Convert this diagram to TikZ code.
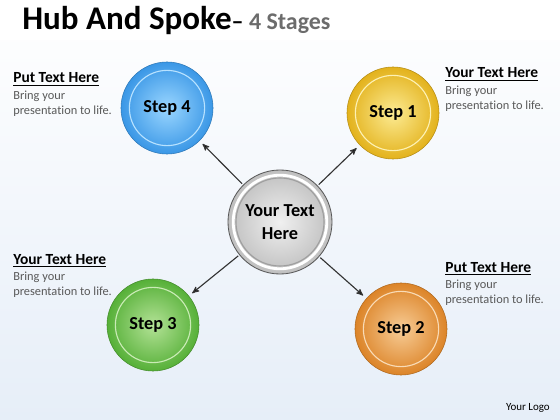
\documentclass[tikz,border=0pt]{standalone}
\usepackage{fontspec}
\setmainfont{Carlito}[Ligatures=NoCommon]
\usetikzlibrary{arrows,positioning}

\definecolor{bluebase}{HTML}{3A97E6}
\definecolor{bluelight}{HTML}{9AD6FF}
\definecolor{yellowbase}{HTML}{E3B21C}
\definecolor{yellowlight}{HTML}{FCEB93}
\definecolor{orangebase}{HTML}{DC8428}
\definecolor{orangelight}{HTML}{F7CC96}
\definecolor{greenbase}{HTML}{56B038}
\definecolor{greenlight}{HTML}{B3E296}
\definecolor{bodygray}{HTML}{595959}
\definecolor{bgblue}{HTML}{E6EEF8}

\tikzset{
  ball/.style 2 args={circle, minimum size=2.3cm, inner sep=0pt,
    inner color=#2, outer color=#1, draw=#1!80!black, line width=0.4pt,
    font=\fontsize{13}{15}\selectfont\bfseries,
    path picture={\draw[#2!70!white, line width=0.8pt]
      (path picture bounding box.center) circle (0.94cm);}},
  hub/.style={circle, minimum size=2.6cm, inner sep=0pt,
    inner color=gray!12, outer color=gray!50, draw=gray!70!black, line width=0.6pt,
    align=center, font=\fontsize{13}{16}\selectfont\bfseries,
    path picture={
      \draw[white, line width=2pt] (path picture bounding box.center) circle (1.17cm);
      \draw[gray!75, line width=0.8pt] (path picture bounding box.center) circle (1.1cm);}},
  head/.style={inner sep=0pt, font=\fontsize{11}{13}\selectfont\bfseries},
  body/.style={inner sep=0pt, align=left, text=bodygray, font=\fontsize{8.8}{11}\selectfont}
}

\begin{document}
\begin{tikzpicture}[x=0.025cm,y=-0.025cm,>=stealth',shorten >=3pt,shorten <=1pt]
  % background
  \shade[top color=white, bottom color=bgblue] (0,0) rectangle (560,420);
  \fill[white] (0,0) rectangle (560,40);
  \useasboundingbox (0,0) rectangle (560,420);

  % title
  \node[inner sep=0pt, anchor=base west] (title) at (22,30)
    {\fontsize{23.5}{28}\selectfont\bfseries Hub And Spoke\fontsize{17}{20}\selectfont\bfseries--
     \color{gray!85!black}4 Stages};

  % hub and steps
  \node[hub]                            (hub)   at (280,222) {Your Text\\Here};
  \node[ball={bluebase}{bluelight}]     (step4) at (167,108) {Step 4};
  \node[ball={yellowbase}{yellowlight}] (step1) at (393,113) {Step 1};
  \node[ball={orangebase}{orangelight}] (step2) at (401,329) {Step 2};
  \node[ball={greenbase}{greenlight}]   (step3) at (153,325) {Step 3};

  \path[->, draw=black!80, line width=0.8pt]
  (hub) edge (step4)
  (hub) edge (step1)
  (hub) edge (step2)
  (hub) edge (step3)
  ;

  % text blocks
  \node[head, anchor=base west] (head4) at (13,83) {\underline{Put Text Here}};
  \node[body, below=3pt of head4.south west, anchor=north west] (body4)
    {Bring your\\presentation to life.};

  \node[head, anchor=base west] (head1) at (445,78) {\underline{Your Text Here}};
  \node[body, below=3pt of head1.south west, anchor=north west] (body1)
    {Bring your\\presentation to life.};

  \node[head, anchor=base west] (head3) at (13,264) {\underline{Your Text Here}};
  \node[body, below=3pt of head3.south west, anchor=north west] (body3)
    {Bring your\\presentation to life.};

  \node[head, anchor=base west] (head2) at (445,272) {\underline{Put Text Here}};
  \node[body, below=3pt of head2.south west, anchor=north west] (body2)
    {Bring your\\presentation to life.};

  \node[inner sep=0pt, anchor=base east, font=\fontsize{7.8}{9}\selectfont] (logo) at (550,410) {Your Logo};
\end{tikzpicture}
\end{document}
